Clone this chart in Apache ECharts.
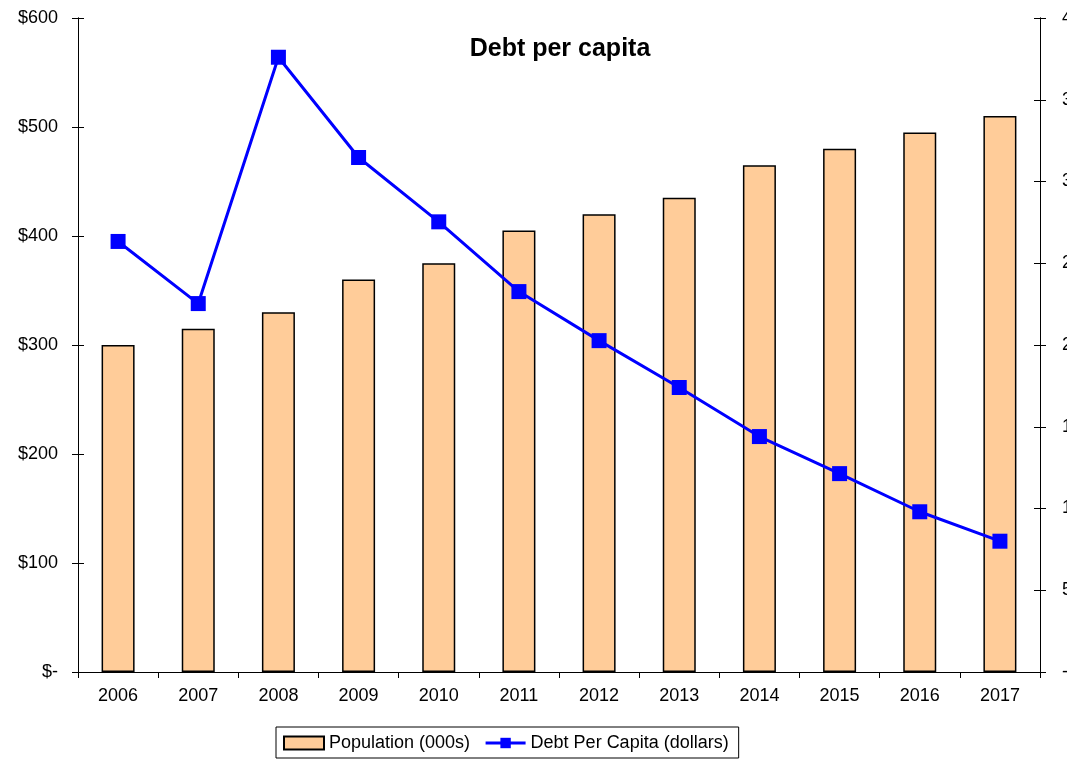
<!DOCTYPE html>
<html>
<head>
<meta charset="utf-8">
<script src="https://cdn.jsdelivr.net/npm/echarts@6/dist/echarts.min.js"></script>
<style>
  html, body { margin: 0; padding: 0; background: #fff; }
  #myChart { width: 1067px; height: 761px; }
</style>
</head>
<body>
<div id="myChart"></div>
<script>
// data
var years = ['2006', '2007', '2008', '2009', '2010', '2011', '2012', '2013', '2014', '2015', '2016', '2017']
var population = [200, 210, 220, 240, 250, 270, 280, 290, 310, 320, 330, 340]
var debtPerCapita = [395, 338, 564, 472, 413, 349, 304, 261, 216, 182, 147, 120]

var txt = { fontFamily: 'Liberation Sans, Arial, sans-serif', fontSize: 18, color: '#000' }

// value axis helper; inside copy draws the inward half of the cross ticks
function valueAxis (pos, max, interval, fmt, margin, withLabels) {
  return {
    type: 'value',
    position: pos,
    min: 0,
    max: max,
    interval: interval,
    axisLine: { show: true, lineStyle: { color: '#000', width: 1 } },
    axisTick: { show: true, inside: !withLabels, length: 6, lineStyle: { color: '#000' } },
    axisLabel: { show: withLabels, formatter: fmt, margin: margin, ...txt },
    splitLine: { show: false }
  }
}

var leftFmt = function (v) { return v === 0 ? '$-' : '$' + v }
var rightFmt = function (v) { return v === 0 ? '-' : String(v) }

var xAxisBase = {
  type: 'category',
  data: years,
  axisLine: { lineStyle: { color: '#000', width: 1 } },
  axisTick: { show: true, length: 6, lineStyle: { color: '#000' } },
  axisLabel: { margin: 15, ...txt }
}

var option = {
  animation: false,
  backgroundColor: '#fff',
  title: {
    text: 'Debt per capita',
    left: 555,
    textAlign: 'center',
    top: 32,
    textStyle: { fontFamily: 'Liberation Sans, Arial, sans-serif', fontSize: 25, fontWeight: 'bold', color: '#000' }
  },
  legend: {
    left: 276,
    top: 727,
    borderColor: '#000',
    borderWidth: 1,
    borderRadius: 0,
    padding: [7, 10, 6, 7],
    itemGap: 14,
    itemWidth: 40,
    itemHeight: 13,
    textStyle: { ...txt },
    data: [
      { name: 'Population (000s)', icon: 'rect' },
      { name: 'Debt Per Capita (dollars)', lineStyle: { width: 3, color: '#0000FF' } }
    ]
  },
  grid: { left: 78, right: 27, top: 18, bottom: 89, containLabel: false, outerBoundsMode: 'none' },
  xAxis: [
    xAxisBase,
    { ...xAxisBase, axisTick: { show: true, inside: true, length: 6, lineStyle: { color: '#000' } }, axisLabel: { show: false } }
  ],
  yAxis: [
    valueAxis('left', 600, 100, leftFmt, 20, true),
    valueAxis('right', 400, 50, rightFmt, 22, true),
    valueAxis('left', 600, 100, leftFmt, 20, false),
    valueAxis('right', 400, 50, rightFmt, 22, false)
  ],
  series: [
    {
      name: 'Population (000s)',
      type: 'bar',
      yAxisIndex: 1,
      barWidth: 33,
      itemStyle: { color: '#FFCC99', borderColor: '#000', borderWidth: 1.5 },
      data: population
    },
    {
      name: 'Debt Per Capita (dollars)',
      type: 'line',
      yAxisIndex: 0,
      symbol: 'rect',
      symbolSize: 15,
      lineStyle: { color: '#0000FF', width: 3 },
      itemStyle: { color: '#0000FF' },
      data: debtPerCapita
    }
  ]
}

var myChart = echarts.init(document.getElementById('myChart'))
myChart.setOption(option)
</script>
</body>
</html>
